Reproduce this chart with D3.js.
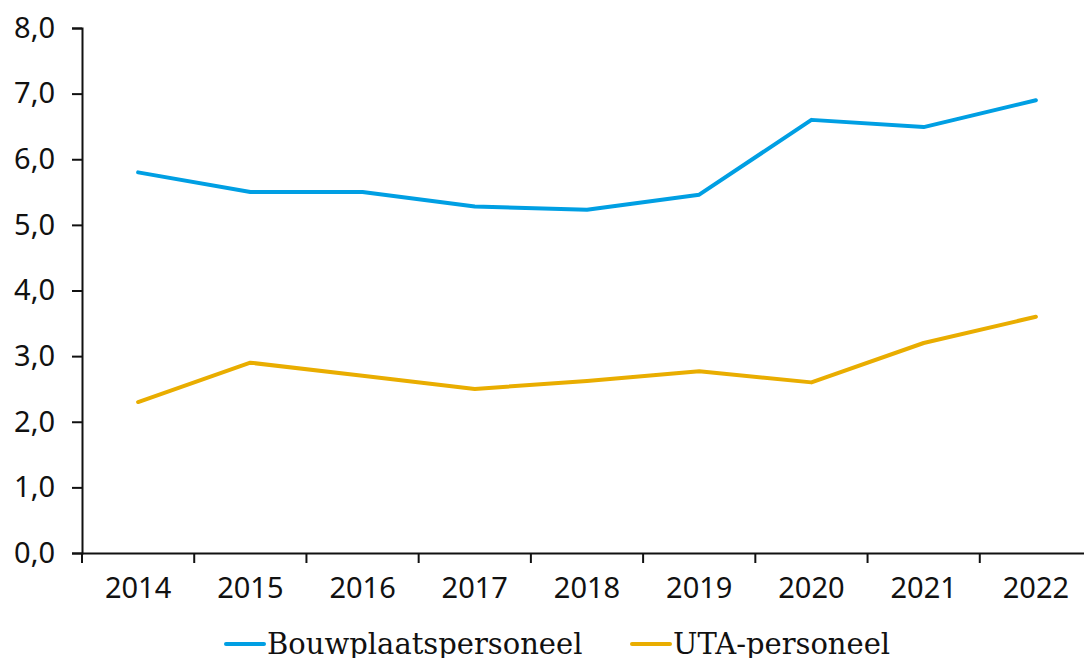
<!DOCTYPE html>
<html>
<head>
  <meta charset="utf-8" />
  <script src="https://d3js.org/d3.v7.min.js"></script>
  <style>
    body { margin: 0; background: #fff; }
    .tick text { font-family: "Noto Sans", sans-serif; font-size: 29px; fill: #111; }
    .legend text { font-family: "DejaVu Serif", serif; font-size: 29px; fill: #111; }
  </style>
</head>
<body>
  <svg id="chart" width="1084" height="658"></svg>
  <script>
    const years = ["2014", "2015", "2016", "2017", "2018", "2019", "2020", "2021", "2022"];
    const bouwplaats = [5.8, 5.5, 5.5, 5.28, 5.23, 5.46, 6.6, 6.49, 6.9];
    const uta = [2.3, 2.9, 2.7, 2.5, 2.62, 2.77, 2.6, 3.2, 3.6];
    const yTicks = [0, 1, 2, 3, 4, 5, 6, 7, 8];

    const svg = d3.select("#chart");
    const margin = { top: 28, right: -8, bottom: 105, left: 82 };
    const width = +svg.attr("width");
    const height = +svg.attr("height");

    const x = d3.scaleBand().domain(years).range([margin.left, width - margin.right]);
    const y = d3.scaleLinear().domain([0, 8]).range([height - margin.bottom, margin.top]);

    const fmt = d => d3.format(".1f")(d).replace(".", ",");

    // y axis
    const yAxis = svg.append("g")
      .attr("transform", "translate(" + margin.left + ",0)")
      .call(d3.axisLeft(y).tickValues(yTicks).tickFormat(fmt).tickSize(10).tickPadding(17));
    yAxis.select(".domain").attr("stroke", "#111").attr("stroke-width", 2);
    yAxis.selectAll(".tick line").attr("stroke", "#111").attr("stroke-width", 2);

    // x axis, tick marks between categories
    const xAxis = svg.append("g")
      .attr("transform", "translate(0," + y(0) + ")")
      .call(d3.axisBottom(x).tickSize(0).tickPadding(24));
    xAxis.select(".domain").attr("stroke", "#111").attr("stroke-width", 2);
    const bounds = years.map(d => x(d));
    xAxis.selectAll("line.sep")
      .data(bounds)
      .join("line")
      .attr("class", "sep")
      .attr("x1", d => d).attr("x2", d => d)
      .attr("y1", 0).attr("y2", 10)
      .attr("stroke", "#111").attr("stroke-width", 2);

    const line = d3.line()
      .x((d, i) => x(years[i]) + x.bandwidth() / 2)
      .y(d => y(d));

    const series = [
      { name: "Bouwplaatspersoneel", values: bouwplaats, color: "#009fe3" },
      { name: "UTA-personeel", values: uta, color: "#e9ad00" }
    ];

    svg.selectAll("path.series")
      .data(series)
      .join("path")
      .attr("class", "series")
      .attr("fill", "none")
      .attr("stroke", d => d.color)
      .attr("stroke-width", 4)
      .attr("stroke-linejoin", "round")
      .attr("stroke-linecap", "round")
      .attr("d", d => line(d.values));

    // legend
    const legend = svg.append("g").attr("class", "legend");
    const legX = [224, 630];
    series.forEach((s, i) => {
      const g = legend.append("g").attr("transform", "translate(" + legX[i] + ",644)");
      g.append("line").attr("x1", 2).attr("x2", 40).attr("y1", 0).attr("y2", 0)
        .attr("stroke", s.color).attr("stroke-width", 4).attr("stroke-linecap", "round");
      g.append("text").attr("x", 43).attr("y", 10).text(s.name);
    });
  </script>
</body>
</html>
